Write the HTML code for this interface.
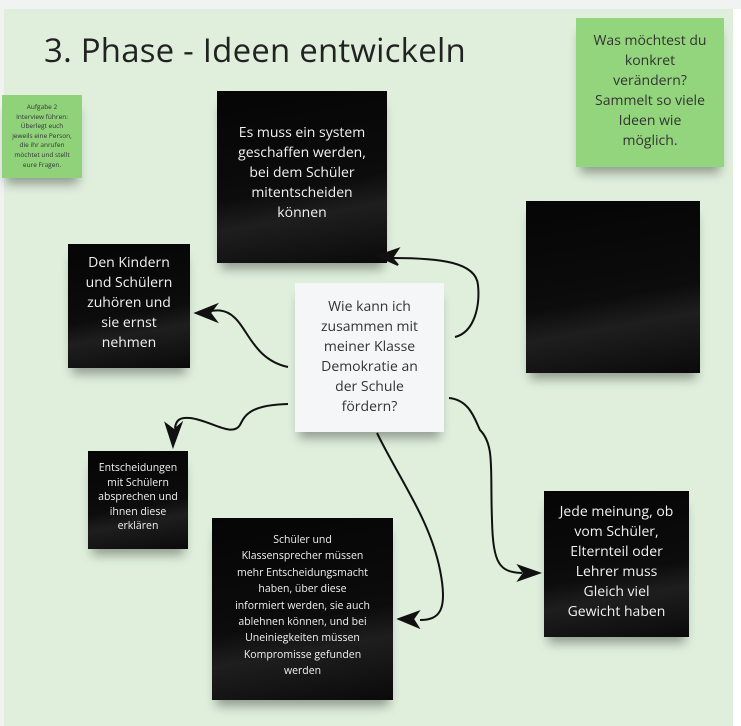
<!DOCTYPE html>
<html><head><meta charset="utf-8"><style>
body{margin:0;width:741px;height:726px;background:#f1f3f2;position:relative;overflow:hidden;font-family:"Open Sans","DejaVu Sans","Liberation Sans",sans-serif}
#bg{position:absolute;left:4px;top:9px;width:729px;height:717px;background:#dfefdc}
.n{position:absolute;box-sizing:border-box;text-align:center;box-shadow:0 10px 10px -4px rgba(0,0,0,.35)}
.b{background:linear-gradient(170deg,#050505 0%,#0c0c0c 55%,#1e1e1e 70%,#0a0a0a 100%);color:#f2f2f2}
</style></head><body>
<div id="bg"></div>
<div style="position:absolute;left:733px;top:9px;width:8px;height:717px;background:#fff"></div>
<div style="position:absolute;left:44px;top:27px;font-size:33px;color:#222;letter-spacing:0.2px;white-space:nowrap">3. Phase - Ideen entwickeln</div>

<div class="n" style="left:2px;top:95px;width:80px;height:83px;background:#8fd27a;color:#333;font-size:6.5px;line-height:9.6px;padding-top:7px">Aufgabe 2<br>Interview führen:<br>Überlegt euch<br>jeweils eine Person,<br>die ihr anrufen<br>möchtet und stellt<br>eure Fragen.</div>

<div class="n" style="left:576px;top:18px;width:148px;height:149px;background:#93d57c;color:#333;font-size:14px;line-height:20px;padding-top:13px">Was möchtest du<br>konkret<br>verändern?<br>Sammelt so viele<br>Ideen wie<br>möglich.</div>

<div class="n b" style="left:217px;top:91px;width:170px;height:172px;font-size:14px;line-height:20px;padding-top:32px">Es muss ein system<br>geschaffen werden,<br>bei dem Schüler<br>mitentscheiden<br>können</div>

<div class="n b" style="left:68px;top:244px;width:122px;height:124px;font-size:14px;line-height:20px;padding-top:9px">Den Kindern<br>und Schülern<br>zuhören und<br>sie ernst<br>nehmen</div>

<div class="n" style="left:295px;top:283px;width:149px;height:149px;background:#f4f6f7;color:#333;font-size:14px;line-height:20px;padding-top:14px">Wie kann ich<br>zusammen mit<br>meiner Klasse<br>Demokratie an<br>der Schule<br>fördern?</div>

<div class="n b" style="left:526px;top:201px;width:174px;height:172px"></div>

<div class="n b" style="left:88px;top:451px;width:100px;height:98px;font-size:10.5px;line-height:14.6px;padding-top:10px">Entscheidungen<br>mit Schülern<br>absprechen und<br>ihnen diese<br>erklären</div>

<div class="n b" style="left:212px;top:518px;width:181px;height:182px;font-size:10.5px;line-height:16.4px;padding-top:14px">Schüler und<br>Klassensprecher müssen<br>mehr Entscheidungsmacht<br>haben, über diese<br>informiert werden, sie auch<br>ablehnen können, und bei<br>Uneiniegkeiten müssen<br>Kompromisse gefunden<br>werden</div>

<div class="n b" style="left:544px;top:491px;width:145px;height:146px;font-size:14px;line-height:20px;padding-top:11px">Jede meinung, ob<br>vom Schüler,<br>Elternteil oder<br>Lehrer muss<br>Gleich viel<br>Gewicht haben</div>

<svg width="741" height="726" style="position:absolute;left:0;top:0" fill="none" stroke="#111" stroke-width="2">
<path d="M455 337 C475 332 480 305 478 285 C476 262 440 258 392 258"/>
<polygon points="378,256 398,249 392,258 398,265" fill="#111"/>
<path d="M288 367 C255 360 248 330 235 318 C225 308 215 310 205 312"/>
<polygon points="196,313 216,305 210,313 216,321" fill="#111"/>
<path d="M288 404 C250 405 245 415 240 425 C232 438 210 420 190 418 C180 417 176 420 175 428"/>
<polygon points="173,446 166,424 174,430 181,424" fill="#111"/>
<path d="M377 433 C400 480 430 520 440 570 C448 610 440 620 420 620"/>
<polygon points="399,619 418,612 413,619 418,627" fill="#111"/>
<path d="M449 398 C470 400 475 420 480 430 C495 445 490 470 492 520 C493 565 500 572 522 573"/>
<polygon points="539,573 519,566 524,573 519,580" fill="#111"/>
</svg>
</body></html>
